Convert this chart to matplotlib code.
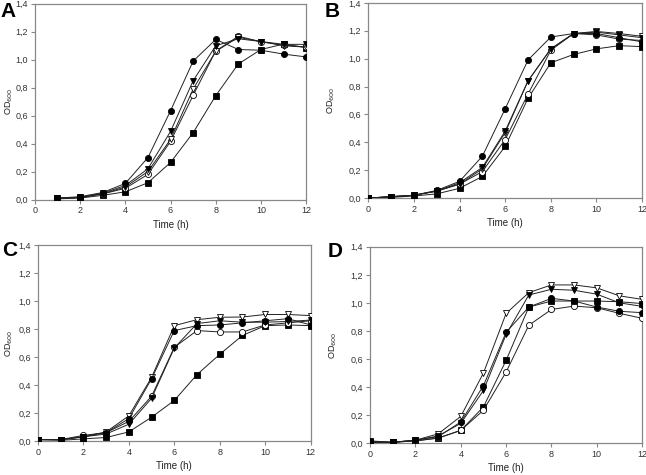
import matplotlib
matplotlib.use("Agg")
import matplotlib.pyplot as plt
from matplotlib.ticker import FuncFormatter, MultipleLocator

plt.rcParams['font.family'] = ['Liberation Sans', 'DejaVu Sans']

# ---- data ----
time_A = [1, 2, 3, 4, 5, 6, 7, 8, 9, 10, 11, 12]
A_fcircle = [0.01, 0.02, 0.05, 0.115, 0.30, 0.635, 0.99, 1.145, 1.073, 1.068, 1.04, 1.02]
A_ftri = [0.01, 0.015, 0.045, 0.10, 0.22, 0.487, 0.85, 1.10, 1.15, 1.13, 1.11, 1.11]
A_otri = [0.01, 0.015, 0.04, 0.09, 0.20, 0.43, 0.79, 1.06, 1.16, 1.13, 1.10, 1.09]
A_ocircle = [0.01, 0.015, 0.04, 0.08, 0.18, 0.416, 0.745, 1.063, 1.168, 1.128, 1.105, 1.09]
A_fsquare = [0.005, 0.01, 0.03, 0.055, 0.12, 0.265, 0.478, 0.743, 0.97, 1.073, 1.112, 1.087]

time_BCD = [0, 1, 2, 3, 4, 5, 6, 7, 8, 9, 10, 11, 12]
B_fcircle = [0.0, 0.01, 0.02, 0.055, 0.12, 0.30, 0.64, 0.99, 1.155, 1.18, 1.18, 1.15, 1.12]
B_ftri = [0.0, 0.01, 0.02, 0.05, 0.11, 0.22, 0.48, 0.84, 1.07, 1.18, 1.19, 1.17, 1.15]
B_otri = [0.0, 0.01, 0.02, 0.05, 0.10, 0.21, 0.47, 0.84, 1.07, 1.18, 1.195, 1.18, 1.16]
B_ocircle = [0.0, 0.01, 0.02, 0.05, 0.10, 0.19, 0.42, 0.745, 1.06, 1.18, 1.17, 1.14, 1.13]
B_fsquare = [0.0, 0.005, 0.015, 0.03, 0.07, 0.155, 0.37, 0.715, 0.97, 1.03, 1.07, 1.093, 1.086]

C_otri = [0.01, 0.01, 0.03, 0.065, 0.18, 0.455, 0.825, 0.868, 0.885, 0.887, 0.905, 0.905, 0.897]
C_fcircle = [0.01, 0.01, 0.03, 0.06, 0.16, 0.445, 0.79, 0.825, 0.83, 0.845, 0.86, 0.875, 0.83]
C_ftri = [0.01, 0.01, 0.03, 0.05, 0.12, 0.305, 0.665, 0.84, 0.86, 0.85, 0.85, 0.855, 0.865]
C_ocircle = [0.01, 0.01, 0.04, 0.06, 0.14, 0.32, 0.67, 0.79, 0.78, 0.78, 0.83, 0.845, 0.86]
C_fsquare = [0.01, 0.005, 0.015, 0.025, 0.065, 0.17, 0.29, 0.475, 0.62, 0.755, 0.825, 0.83, 0.825]

D_otri = [0.005, 0.005, 0.02, 0.065, 0.19, 0.50, 0.925, 1.073, 1.128, 1.128, 1.107, 1.05, 1.025]
D_ftri = [0.005, 0.005, 0.02, 0.05, 0.14, 0.375, 0.775, 1.056, 1.097, 1.09, 1.062, 1.0, 0.975]
D_fcircle = [0.01, 0.005, 0.02, 0.045, 0.15, 0.41, 0.79, 0.97, 1.032, 1.013, 0.97, 0.94, 0.93]
D_fsquare = [0.015, 0.005, 0.015, 0.035, 0.09, 0.258, 0.59, 0.97, 1.013, 1.013, 1.013, 1.008, 0.995]
D_ocircle = [0.005, 0.005, 0.015, 0.035, 0.09, 0.234, 0.507, 0.84, 0.953, 0.977, 0.965, 0.925, 0.89]

panels = [
    ("A", time_A, [A_fsquare, A_ocircle, A_otri, A_ftri, A_fcircle]),
    ("B", time_BCD, [B_fsquare, B_ocircle, B_otri, B_ftri, B_fcircle]),
    ("C", time_BCD, [C_fsquare, C_ocircle, C_otri, C_ftri, C_fcircle]),
    ("D", time_BCD, [D_fsquare, D_ocircle, D_otri, D_ftri, D_fcircle]),
]
# style order: filled square, open circle, open triangle, filled triangle, filled circle
styles = [
    dict(marker='s', mfc='black'),
    dict(marker='o', mfc='white'),
    dict(marker='v', mfc='white'),
    dict(marker='v', mfc='black'),
    dict(marker='o', mfc='black'),
]

positions = {
    "A": [0.054, 0.580, 0.420, 0.412],
    "B": [0.570, 0.583, 0.424, 0.411],
    "C": [0.0588, 0.0716, 0.422, 0.412],
    "D": [0.573, 0.0674, 0.421, 0.413],
}
ylabel_x = {"A": -0.075, "B": -0.115, "C": -0.085, "D": -0.115}
letter_pos = {"A": (0.0, 0.995), "B": (0.503, 0.995), "C": (0.003, 0.493), "D": (0.507, 0.49)}

fig = plt.figure(figsize=(6.46, 4.75), dpi=100)
fmt = FuncFormatter(lambda v, p: f"{v:.1f}".replace('.', ','))
grey = '#888888'

for name, t, series in panels:
    ax = fig.add_axes(positions[name])
    for ys, st in zip(series, styles):
        ax.plot(t, ys, color='#222222', lw=0.7, marker=st['marker'], mfc=st['mfc'],
                mec='black', mew=0.6, ms=4.4, zorder=3)
    ax.set_xlim(0, 12)
    ax.set_ylim(0, 1.4)
    ax.xaxis.set_major_locator(MultipleLocator(2))
    ax.yaxis.set_major_locator(MultipleLocator(0.2))
    ax.yaxis.set_major_formatter(fmt)
    for s in ax.spines.values():
        s.set_color(grey)
        s.set_linewidth(0.9)
    ax.tick_params(axis='both', direction='out', length=3, width=0.8, color=grey,
                   labelsize=6.5, labelcolor='#333333', pad=2, top=False, right=False)
    ax.set_xlabel("Time (h)", fontsize=7, color='#222222', labelpad=3)
    ax.set_ylabel("OD$_{600}$", fontsize=6.5, color='#222222')
    ax.yaxis.set_label_coords(ylabel_x[name], 0.5)
    fig.text(letter_pos[name][0], letter_pos[name][1], name, fontsize=15,
             fontweight='bold', ha='left', va='top')

fig.savefig("out.png", dpi=100)
